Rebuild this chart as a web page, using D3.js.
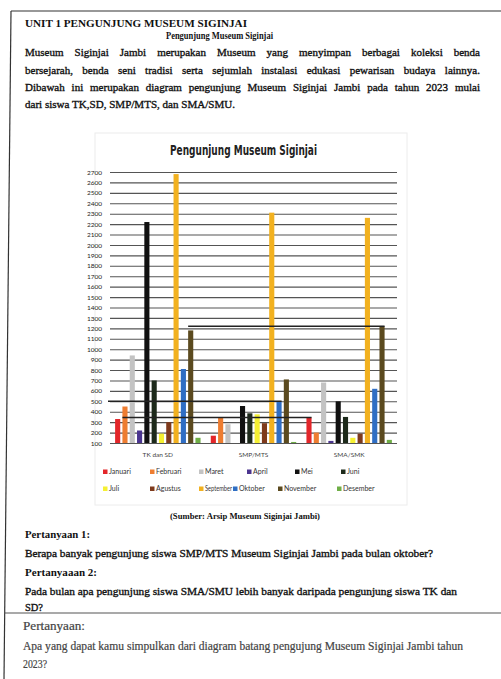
<!DOCTYPE html>
<html><head><meta charset="utf-8">
<script src="https://cdn.jsdelivr.net/npm/d3@7"></script>
<style>body{margin:0;background:#fff;} svg{display:block}</style>
</head><body>
<svg id="c" width="501" height="679"></svg>
<script>
// ---- data ----
const groups = ["TK dan SD", "SMP/MTS", "SMA/SMK"];
const months = ["Januari","Februari","Maret","April","Mei","Juni","Juli","Agustus","September","Oktober","November","Desember"];
const tkSd   = [330, 450, 940, 220, 2220, 700, 190, 300, 2680, 810, 1180, 150];
const smpMts = [170, 340, 280, 100, 455, 385, 375, 290, 2310, 500, 710, 110];
const smaSmk = [345, 200, 680, 120, 500, 350, 150, 190, 2260, 620, 1220, 130];
const yTicks = d3.range(100, 2800, 100);
const monthColors = ["#e3262a","#ee7d31","#c3c3c3","#4b3590","#111111","#1d2a1b","#f5f032","#7e3a1c","#f2b11f","#2f6ec4","#5b4a1f","#6fae46"];

const seriesByGroup = [tkSd, smpMts, smaSmk];

const svg = d3.select("#c");
svg.append("rect").attr("width",501).attr("height",679).attr("fill","#fff");

// ---- page frame ----
svg.append("line").attr("x1",11).attr("y1",11).attr("x2",501).attr("y2",11).attr("stroke","#333").attr("stroke-width",1.2);
svg.append("line").attr("x1",11).attr("y1",11).attr("x2",4).attr("y2",679).attr("stroke","#333").attr("stroke-width",1.2);
svg.append("line").attr("x1",4).attr("y1",613).attr("x2",501).attr("y2",613).attr("stroke","#555").attr("stroke-width",1.2);

// ---- text helper ----
const SERIF = "'Liberation Serif','Times New Roman',serif";
function txt(x, y, str, o) {
  o = o || {};
  const t = svg.append("text").attr("x", x).attr("y", y).text(str)
    .attr("font-family", o.family || SERIF)
    .attr("font-size", o.size || 11)
    .attr("font-weight", o.weight || "normal")
    .attr("fill", o.fill || "#111");
  if (o.stroke) t.attr("stroke", o.fill || "#111").attr("stroke-width", o.stroke);
  if (o.anchor) t.attr("text-anchor", o.anchor);
  if (o.w) {
    if (o.justify) {
      const nat = t.node().getComputedTextLength();
      const sp = (str.match(/ /g) || []).length;
      if (sp) t.attr("word-spacing", (o.w - nat) / sp);
    } else {
      t.attr("textLength", o.w).attr("lengthAdjust", "spacingAndGlyphs");
    }
  }
  return t;
}

// ---- document text ----
txt(25, 27, "UNIT 1 PENGUNJUNG MUSEUM SIGINJAI", {size: 10, weight: "bold", w: 222});
txt(166, 39, "Pengunjung Museum Siginjai", {size: 10, weight: "bold", w: 107});
const P = {size: 11, stroke: 0.35};
txt(25, 56, "Museum Siginjai Jambi merupakan Museum yang menyimpan berbagai koleksi benda", {...P, w: 455, justify: true});
txt(25, 74, "bersejarah, benda seni tradisi serta sejumlah instalasi edukasi pewarisan budaya lainnya.", {...P, w: 455, justify: true});
txt(25, 91, "Dibawah ini merupakan diagram pengunjung Museum Siginjai Jambi pada tahun 2023 mulai", {...P, w: 455, justify: true});
txt(25, 108, "dari siswa TK,SD, SMP/MTS, dan SMA/SMU.", {...P, w: 210});

txt(170, 519, "(Sumber: Arsip Museum Siginjai Jambi)", {size: 9, weight: "bold", w: 150});
txt(25, 538, "Pertanyaan 1:", {size: 10.5, weight: "bold", w: 65});
txt(25, 557, "Berapa banyak pengunjung siswa SMP/MTS Museum Siginjai Jambi pada bulan oktober?", {...P, w: 408});
txt(25, 576, "Pertanyaaan 2:", {size: 10.5, weight: "bold", w: 72});
txt(25, 595, "Pada bulan apa pengunjung siswa SMA/SMU lebih banyak daripada pengunjung siswa TK dan", {...P, w: 432});
txt(25, 611, "SD?", {...P, w: 18});
txt(23, 630, "Pertanyaan:", {size: 11.5, fill: "#444", stroke: 0.2, w: 62});
txt(23, 650, "Apa yang dapat kamu simpulkan dari diagram batang  pengujung Museum Siginjai Jambi tahun", {size: 11.5, fill: "#444", stroke: 0.2, w: 440});
txt(23, 668, "2023?", {size: 11.5, fill: "#444", stroke: 0.2, w: 24});

// ---- chart ----
const CH = "Lato, 'Open Sans', sans-serif";
svg.append("rect").attr("x",95).attr("y",133).attr("width",312).attr("height",372)
  .attr("fill","none").attr("stroke","#ececec").attr("stroke-width",1);

svg.append("text").attr("x",170).attr("y",155).text("Pengunjung Museum Siginjai")
  .attr("font-family","'DejaVu Sans Condensed','DejaVu Sans',sans-serif").attr("font-weight","bold")
  .attr("font-size",14).attr("fill","#222").attr("textLength",147).attr("lengthAdjust","spacingAndGlyphs");

const x0 = d3.scaleBand().domain(groups).range([110, 397]).padding(0);
const x1 = d3.scaleBand().domain(months).range([0, x0.bandwidth()]).paddingInner(0.3).paddingOuter(0.7);
const y = d3.scaleLinear().domain([100, 2700]).range([443, 172]);

const yAxis = svg.append("g").attr("transform","translate(110,0)")
  .call(d3.axisLeft(y).tickValues(yTicks).tickFormat(d3.format("d")).tickSize(-(397-110)).tickPadding(8));
yAxis.select(".domain").remove();
yAxis.selectAll(".tick line").attr("stroke","#555").attr("stroke-width",1.1);
yAxis.selectAll(".tick text").attr("font-family",CH).attr("font-size",6.5).attr("fill","#222");

// bars
groups.forEach((g, gi) => {
  svg.append("g").selectAll("rect").data(seriesByGroup[gi]).join("rect")
    .attr("x", (d, i) => x0(g) + x1(months[i]))
    .attr("y", d => y(d))
    .attr("width", x1.bandwidth())
    .attr("height", d => y(100) - y(d))
    .attr("fill", (d, i) => monthColors[i]);
});

// annotation lines drawn on the scan
const ann = svg.append("g").attr("stroke","#222").attr("stroke-width",1.5);
ann.append("line")
  .attr("x1", x0(groups[0]) + x1("November")).attr("x2", x0(groups[2]) + x1("November") + x1.bandwidth())
  .attr("y1", y(smaSmk[10])).attr("y2", y(smaSmk[10]));
ann.append("line")
  .attr("x1", 108).attr("x2", x0(groups[1]) + x1("Oktober") + x1.bandwidth())
  .attr("y1", y(smpMts[9])).attr("y2", y(smpMts[9]));
ann.append("line")
  .attr("x1", x0(groups[0]) + x1("Februari")).attr("x2", x0(groups[2]) + x1("Januari") + x1.bandwidth())
  .attr("y1", y(smaSmk[0])).attr("y2", y(smaSmk[0]));

// category labels
svg.append("g").selectAll("text").data(groups).join("text")
  .attr("x", d => x0(d) + x0.bandwidth()/2).attr("y", 457)
  .attr("text-anchor","middle").attr("font-family",CH).attr("font-size",6.5).attr("fill","#444")
  .text(d => d);

// legend
const legendX = [[103,150,199,247,295,341],[103,150,199,233,278,337]];
const legendY = [474, 491];
const lg = svg.append("g");
months.forEach((m, i) => {
  const r = Math.floor(i / 6), c = i % 6;
  lg.append("rect").attr("x", legendX[r][c]).attr("y", legendY[r] - 4.5).attr("width", 4.5).attr("height", 4.5)
    .attr("fill", monthColors[i]);
  const t = lg.append("text").attr("x", legendX[r][c] + 6).attr("y", legendY[r])
    .attr("font-family", CH).attr("font-size", 7).attr("fill", "#333").text(m);
  const next = c < 5 ? legendX[r][c + 1] : 400;
  const maxW = next - legendX[r][c] - 7;
  if (t.node().getComputedTextLength() > maxW) t.attr("textLength", maxW).attr("lengthAdjust", "spacingAndGlyphs");
});
</script>
</body></html>
